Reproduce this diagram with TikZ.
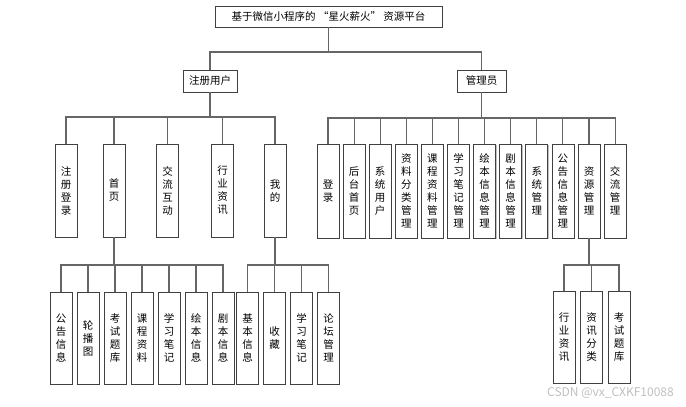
\documentclass[tikz,border=0pt]{standalone}
\usepackage{fontspec}
\setmainfont{Noto Sans CJK SC}
\usetikzlibrary{positioning,shadows}
\tikzset{
	box base/.style={draw=black!75, line width=0.8pt, rectangle, fill=white, outer sep=0pt, inner sep=0pt,
		drop shadow={shadow xshift=0.9pt, shadow yshift=-0.9pt, fill=black!25, opacity=1},
		font=\fontsize{10.5}{13}\selectfont},
	hbox/.style={box base, minimum height=22pt},
	vbox/.style={box base, minimum width=22pt, align=center},
	link/.style={draw=black!60, line width=1.1pt},
}

\begin{document}
\begin{tikzpicture}[x=1pt,y=-1pt]
	\useasboundingbox (0,0) rectangle (686,407);

	% Top levels
	\node [hbox,minimum width=227pt,minimum height=21pt] (root) at (328.5,16.5) {基于微信小程序的 “星火薪火” 资源平台};
	\node [hbox,minimum width=54pt] (reg) at (210,81) {注册用户};
	\node [hbox,minimum width=49pt] (adm) at (481.5,81) {管理员};

	% Registered user
	\node [vbox,minimum height=93pt] (reglogin) at (66,190.5) {注\\册\\登\\录};
	\node [vbox,minimum height=93pt] (home) at (114,190.5) {首\\页};
	\node [vbox,minimum height=93pt] (chat) at (167.5,190.5) {交\\流\\互\\动};
	\node [vbox,minimum height=93pt] (news) at (222.5,190.5) {行\\业\\资\\讯};
	\node [vbox,minimum height=93pt] (mine) at (275,190.5) {我\\的};

	% Administrator
	\node [vbox,minimum height=94pt] (login) at (328,191) {登\\录};
	\node [vbox,minimum height=94pt,right=4.1pt of login] (dash) {后\\台\\首\\页};
	\node [vbox,minimum height=94pt,right=4.1pt of dash] (sysuser) {系\\统\\用\\户};
	\node [vbox,minimum height=94pt,right=4.1pt of sysuser] (matcat) {资\\料\\分\\类\\管\\理};
	\node [vbox,minimum height=94pt,right=4.1pt of matcat] (course) {课\\程\\资\\料\\管\\理};
	\node [vbox,minimum height=94pt,right=4.1pt of course] (notes) {学\\习\\笔\\记\\管\\理};
	\node [vbox,minimum height=94pt,right=4.1pt of notes] (picbook) {绘\\本\\信\\息\\管\\理};
	\node [vbox,minimum height=94pt,right=4.1pt of picbook] (script) {剧\\本\\信\\息\\管\\理};
	\node [vbox,minimum height=94pt,right=4.1pt of script] (sysmgr) {系\\统\\管\\理};
	\node [vbox,minimum height=94pt,right=4.1pt of sysmgr] (notice) {公\\告\\信\\息\\管\\理};
	\node [vbox,minimum height=94pt,right=4.1pt of notice] (res) {资\\源\\管\\理};
	\node [vbox,minimum height=94pt,right=4.1pt of res] (chatmgr) {交\\流\\管\\理};

	% Home page
	\node [vbox,minimum height=92pt] (hnotice) at (61,338) {公\\告\\信\\息};
	\node [vbox,minimum height=92pt,right=5pt of hnotice] (hbanner) {轮\\播\\图};
	\node [vbox,minimum height=92pt,right=5pt of hbanner] (hexam) {考\\试\\题\\库};
	\node [vbox,minimum height=92pt,right=5pt of hexam] (hcourse) {课\\程\\资\\料};
	\node [vbox,minimum height=92pt,right=5pt of hcourse] (hnotes) {学\\习\\笔\\记};
	\node [vbox,minimum height=92pt,right=5pt of hnotes] (hpic) {绘\\本\\信\\息};
	\node [vbox,minimum height=92pt,right=5pt of hpic] (hscript) {剧\\本\\信\\息};

	% Mine
	\node [vbox,minimum height=92pt,right=2.5pt of hscript] (minfo) {基\\本\\信\\息};
	\node [vbox,minimum height=92pt,right=5pt of minfo] (mfav) {收\\藏};
	\node [vbox,minimum height=92pt,right=5pt of mfav] (mnotes) {学\\习\\笔\\记};
	\node [vbox,minimum height=92pt,right=5pt of mnotes] (mforum) {论\\坛\\管\\理};

	% Resources
	\node [vbox,minimum height=92pt] (rnews) at (564,337) {行\\业\\资\\讯};
	\node [vbox,minimum height=92pt,right=5.5pt of rnews] (rcat) {资\\讯\\分\\类};
	\node [vbox,minimum height=92pt,right=5.5pt of rcat] (rexam) {考\\试\\题\\库};

	% Connectors
	\draw [link] (root.south) -- ++(0,25) -| (reg.north)
		(root.south) -- ++(0,25) -| (adm.north);
	\draw [link] (reg.south) -- ++(0,25) -| (reglogin.north)
		(reg.south) -- ++(0,25) -| (home.north)
		(reg.south) -- ++(0,25) -| (chat.north)
		(reg.south) -- ++(0,25) -| (news.north)
		(reg.south) -- ++(0,25) -| (mine.north);
	\draw [link] (adm.south) -- ++(0,26) -| (login.north)
		(adm.south) -- ++(0,26) -| (dash.north)
		(adm.south) -- ++(0,26) -| (sysuser.north)
		(adm.south) -- ++(0,26) -| (matcat.north)
		(adm.south) -- ++(0,26) -| (course.north)
		(adm.south) -- ++(0,26) -| (notes.north)
		(adm.south) -- ++(0,26) -| (picbook.north)
		(adm.south) -- ++(0,26) -| (script.north)
		(adm.south) -- ++(0,26) -| (sysmgr.north)
		(adm.south) -- ++(0,26) -| (notice.north)
		(adm.south) -- ++(0,26) -| (res.north)
		(adm.south) -- ++(0,26) -| (chatmgr.north);
	\draw [link] (home.south) -- ++(0,28) -| (hnotice.north)
		(home.south) -- ++(0,28) -| (hbanner.north)
		(home.south) -- ++(0,28) -| (hexam.north)
		(home.south) -- ++(0,28) -| (hcourse.north)
		(home.south) -- ++(0,28) -| (hnotes.north)
		(home.south) -- ++(0,28) -| (hpic.north)
		(home.south) -- ++(0,28) -| (hscript.north);
	\draw [link] (mine.south) -- ++(0,28) -| (minfo.north)
		(mine.south) -- ++(0,28) -| (mfav.north)
		(mine.south) -- ++(0,28) -| (mnotes.north)
		(mine.south) -- ++(0,28) -| (mforum.north);
	\draw [link] (res.south) -- ++(0,27) -| (rnews.north)
		(res.south) -- ++(0,27) -| (rcat.north)
		(res.south) -- ++(0,27) -| (rexam.north);

	% Watermark
	\node [text=black!25,font=\fontsize{12}{13}\selectfont,anchor=west,inner sep=0pt] (mark) at (547,393) {CSDN @vx\_CXKF10088};
\end{tikzpicture}
\end{document}
